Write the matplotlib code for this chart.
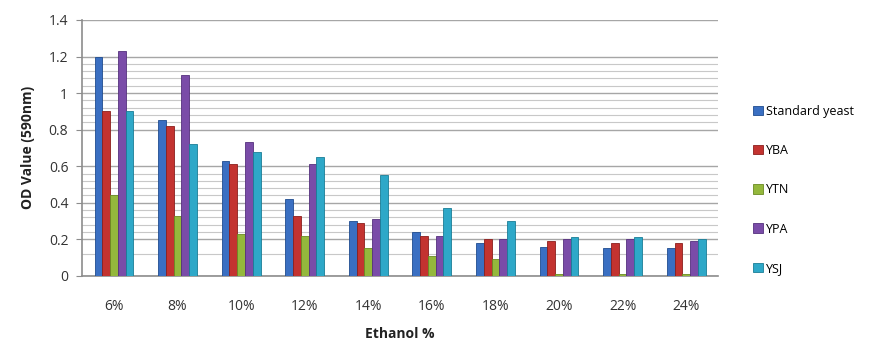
import numpy as np
import matplotlib
matplotlib.use("Agg")
import matplotlib.pyplot as plt
from matplotlib.ticker import FixedLocator

plt.rcParams['font.family'] = ['Open Sans', 'DejaVu Sans']

ethanol = ['6%', '8%', '10%', '12%', '14%', '16%', '18%', '20%', '22%', '24%']
standard_yeast = [1.20, 0.85, 0.63, 0.42, 0.30, 0.24, 0.18, 0.16, 0.155, 0.15]
yba = [0.90, 0.82, 0.61, 0.33, 0.29, 0.22, 0.20, 0.19, 0.18, 0.18]
ytn = [0.44, 0.33, 0.23, 0.22, 0.15, 0.11, 0.09, 0.01, 0.01, 0.01]
ypa = [1.23, 1.10, 0.73, 0.61, 0.31, 0.22, 0.20, 0.20, 0.20, 0.19]
ysj = [0.90, 0.72, 0.68, 0.65, 0.55, 0.37, 0.30, 0.21, 0.21, 0.20]

names = ['Standard yeast', 'YBA', 'YTN', 'YPA', 'YSJ']
colors = ['#3a6fc2', '#c33330', '#94b83c', '#7a4ca8', '#2ea8c8']
edges = ['#1f4c8f', '#8c1f1d', '#6a8a22', '#55307d', '#1a7d96']
series = [standard_yeast, yba, ytn, ypa, ysj]

fig = plt.figure(figsize=(8.93, 3.44), dpi=100)
ax = fig.add_axes([0.092, 0.198, 0.712, 0.744])

x = np.arange(len(ethanol))
w = 0.122
for i, (vals, c, ec, name) in enumerate(zip(series, colors, edges, names)):
    ax.bar(x + (i - 2) * w, vals, width=w, color=c, edgecolor=ec,
           linewidth=0.6, label=name, zorder=3)

ax.set_xlim(-0.5, len(ethanol) - 0.5)
ax.set_ylim(0, 1.4)
ax.set_yticks(np.arange(0, 1.41, 0.2))
ax.set_yticklabels(['0', '0.2', '0.4', '0.6', '0.8', '1', '1.2', '1.4'])
minor = [0.12, 0.24, 0.28, 0.32, 0.36, 0.44, 0.48, 0.52, 0.56,
         0.84, 0.88, 0.92, 0.96, 1.04, 1.08, 1.12, 1.16]
ax.yaxis.set_minor_locator(FixedLocator(minor))
ax.grid(axis='y', which='major', color='#a6a6a6', linewidth=1.0, zorder=0)
ax.grid(axis='y', which='minor', color='#c8c8c8', linewidth=0.8, zorder=0)
ax.tick_params(axis='y', which='minor', length=0)
ax.tick_params(axis='y', which='major', length=4, color='#8c8c8c',
               labelsize=10, labelcolor='#333333', pad=6)
ax.set_xticks(x)
ax.set_xticklabels(ethanol)
ax.tick_params(axis='x', length=0, labelsize=10, labelcolor='#333333', pad=17)

for s in ['top', 'right']:
    ax.spines[s].set_visible(False)
for s in ['left', 'bottom']:
    ax.spines[s].set_color('#8c8c8c')
    ax.spines[s].set_linewidth(1.2)

ax.set_xlabel('Ethanol %', fontsize=10, fontweight='bold',
              color='#222222', labelpad=9)
ax.set_ylabel('OD Value (590nm)', fontsize=10, fontweight='bold',
              color='#222222', labelpad=10)

fig.legend(loc='upper left', bbox_to_anchor=(0.838, 0.71), frameon=False,
           fontsize=9, handlelength=0.8, handleheight=0.8,
           handletextpad=0.2, labelspacing=2.1, borderaxespad=0)

fig.savefig('out.png', dpi=100)
